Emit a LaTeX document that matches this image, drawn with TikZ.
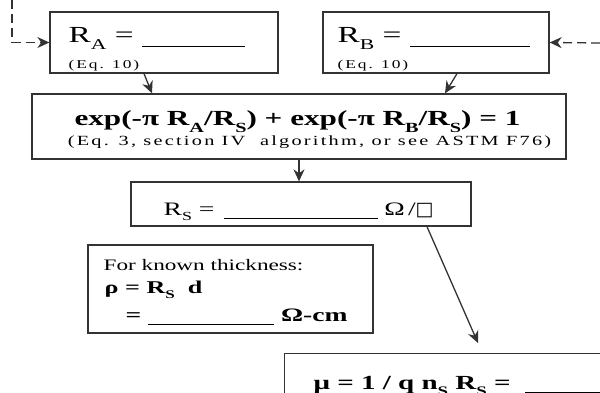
\documentclass[tikz,border=0pt]{standalone}
\usepackage{fontspec}
\setmainfont[FakeStretch=1.45]{Liberation Serif}
\newfontfamily\spaced[FakeStretch=1.45,LetterSpace=16]{Liberation Serif}
\newfontfamily\symfont{DejaVu Sans}
\usetikzlibrary{arrows.meta, positioning}
\newcommand{\sub}[1]{\raisebox{-0.3em}{\scalebox{0.65}{#1}}}
\newcommand{\blank}[1]{\rule[-4pt]{#1}{0.9pt}}

\begin{document}
\begin{tikzpicture}[x=1pt,y=-1pt,->,>={Stealth[length=12pt,width=11pt]},line width=1.3pt,draw=black!80]
  \tikzstyle{box}=[draw=black!80,rectangle,inner sep=0pt]
  \tikzstyle{lbl}=[anchor=base west,inner sep=0pt,text=black]
  \useasboundingbox (0,0) rectangle (600,393);

  % boxes
  \node[box,minimum width=228pt,minimum height=61pt] (ra) at (164,42.5) {};
  \node[box,minimum width=226pt,minimum height=61pt] (rb) at (436,42.5) {};
  \node[box,minimum width=534pt,minimum height=65pt] (eqn) at (299,126.5) {};
  \node[box,minimum width=340pt,minimum height=44pt] (rs) at (301,204) {};
  \node[box,minimum width=285pt,minimum height=88pt] (rho) at (230.5,289) {};
  \node[box,minimum width=340pt,minimum height=70pt,anchor=north west] (mu) at (284,353) {};

  % texts
  \node[lbl,font=\fontsize{23}{25}\selectfont] (ratxt) at (68,43) {R\sub{A} = \blank{103pt}};
  \node[lbl,font=\spaced\fontsize{12}{13}\selectfont] (raref) at (68,69) {(Eq. 10)};
  \node[lbl,font=\fontsize{23}{25}\selectfont] (rbtxt) at (337,43) {R\sub{B} = \blank{120pt}};
  \node[lbl,font=\spaced\fontsize{12}{13}\selectfont] (rbref) at (337,69) {(Eq. 10)};
  \node[lbl,anchor=base,font=\bfseries\fontsize{21.5}{23}\selectfont] (eqtxt) at (297.5,126)
    {exp(-π R\sub{A}/R\sub{S}) + exp(-π R\sub{B}/R\sub{S}) = 1};
  \node[lbl,anchor=base,font=\spaced\fontsize{14}{16}\selectfont] (eqref) at (309.5,146)
    {(Eq. 3, section IV\ \ algorithm, or see ASTM F76)};
  \node[lbl,font=\fontsize{19}{21}\selectfont] (rstxt) at (163,215)
    {R\sub{S} =\hspace{10pt}\blank{154pt}\hspace{6pt}Ω\,/{\symfont □}};
  \node[lbl,font=\fontsize{16}{18}\selectfont] (rhotop) at (103,270) {For known thickness:};
  \node[lbl,font=\bfseries\fontsize{18}{20}\selectfont] (rhoeq) at (104,293) {ρ = R\sub{S}\ \ d};
  \node[lbl,font=\bfseries\fontsize{19}{21}\selectfont] (rhoval) at (125,321) {=\ \blank{126pt}\ Ω-cm};
  \node[lbl,font=\bfseries\fontsize{20}{22}\selectfont] (mutxt) at (313,389)
    {μ = 1 / q n\sub{S} R\sub{S} = \ \blank{80pt}};

  % connectors
  \coordinate (inA) at (12,0);
  \coordinate (inB) at (600,43);
  \draw[dash pattern=on 9pt off 5pt] (inA) |- (ra.west);
  \draw[dash pattern=on 9pt off 5pt] (inB) -- (rb.east);
  \draw ([xshift=-20pt]ra.south) -- ([xshift=-147pt]eqn.north);
  \draw ([xshift=21pt]rb.south) -- ([xshift=146pt]eqn.north);
  \draw (eqn.south) -- (eqn.south |- rs.north);
  \draw ([xshift=126pt]rs.south) -- ([xshift=194pt,yshift=10pt]mu.north west);
\end{tikzpicture}
\end{document}
